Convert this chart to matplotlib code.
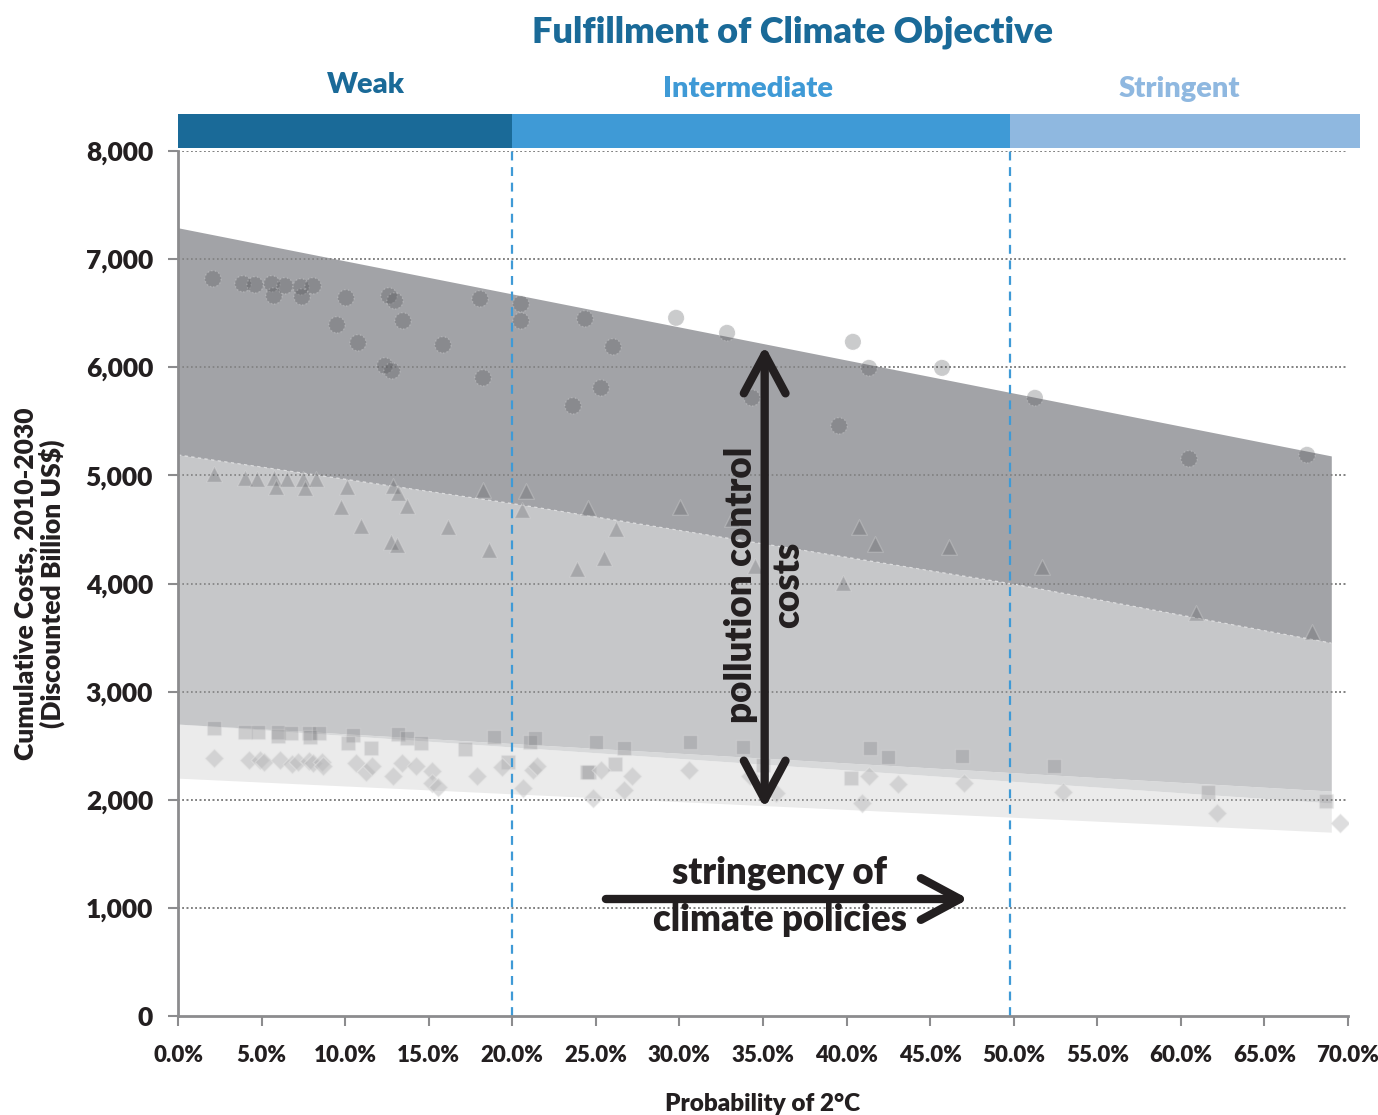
import matplotlib
matplotlib.use("Agg")
import matplotlib.pyplot as plt
from matplotlib.patches import Rectangle
import numpy as np

plt.rcParams['font.family'] = ['Lato', 'DejaVu Sans']
W = "heavy"

# ---------------- data ----------------
band_x = [0, 20, 50, 69]
top_line = [7290, 6678, 5761, 5180]
mid_line = [5190, 4740, 3995, 3450]
upper_low_line = [2700, 2520, 2250, 2080]
lower_low_line = [2700, 2488, 2170, 1970]
bottom_line = [2200, 2055, 1838, 1700]

circle_x = [2.09, 3.89, 4.61, 5.62, 5.74, 6.40, 7.36, 7.42, 8.08, 9.51, 10.05, 10.77, 12.38, 12.80,
            12.62, 12.98, 13.46, 15.85, 18.07, 18.25, 20.52, 20.52, 24.35, 26.03, 25.31, 23.63,
            29.80, 32.85, 34.34, 40.38, 41.34, 45.71, 39.55, 51.27, 60.49, 67.55]
circle_y = [6818, 6772, 6762, 6772, 6660, 6753, 6744, 6651, 6753, 6392, 6642, 6226, 6013, 5967,
            6660, 6614, 6429, 6207, 6633, 5902, 6586, 6429, 6448, 6189, 5809, 5643,
            6457, 6318, 5717, 6235, 5994, 5994, 5458, 5717, 5153, 5190]

tri_x = [2.15, 4.01, 4.73, 5.74, 5.86, 6.52, 7.48, 7.60, 8.26, 9.75, 10.11, 10.95, 12.86, 13.16,
         12.74, 13.10, 13.70, 16.15, 18.25, 18.61, 20.82, 20.58, 24.53, 23.87, 25.49, 26.21,
         30.03, 33.15, 34.52, 39.79, 40.74, 41.70, 46.13, 51.69, 60.91, 67.85]
tri_y = [5014, 4977, 4968, 4977, 4894, 4968, 4968, 4884, 4968, 4709, 4894, 4533, 4903, 4838,
         4385, 4357, 4718, 4524, 4866, 4311, 4857, 4681, 4699, 4135, 4237, 4505,
         4709, 4598, 4163, 4006, 4524, 4366, 4339, 4154, 3728, 3552]

sq_x = [2.15, 4.01, 4.79, 5.98, 5.98, 6.76, 7.84, 7.90, 8.44, 10.47, 10.17, 11.55, 13.16, 13.70,
        14.54, 17.17, 18.91, 19.74, 21.06, 21.36, 24.59, 25.01, 26.68, 26.15, 24.47, 30.63,
        33.80, 35.00, 41.40, 42.48, 40.27, 46.91, 52.41, 61.62, 68.68]
sq_y = [2664, 2627, 2627, 2627, 2590, 2618, 2618, 2581, 2618, 2599, 2525, 2479, 2609, 2572,
        2525, 2470, 2581, 2350, 2535, 2572, 2257, 2535, 2479, 2331, 2257, 2535,
        2488, 2322, 2479, 2396, 2202, 2405, 2313, 2072, 1989]

dia_x = [2.15, 4.25, 4.91, 5.15, 6.10, 6.82, 7.18, 7.84, 8.08, 8.62, 8.68, 10.65, 11.25, 11.61,
         12.86, 13.40, 14.24, 15.20, 15.20, 15.56, 17.89, 19.38, 20.64, 21.24, 21.48, 25.31,
         27.16, 26.68, 24.83, 30.57, 34.22, 35.78, 41.34, 43.08, 40.92, 47.03, 52.95, 62.16, 69.52]
dia_y = [2387, 2368, 2368, 2350, 2368, 2331, 2350, 2359, 2340, 2350, 2313, 2340, 2257, 2313,
         2220, 2340, 2313, 2266, 2155, 2118, 2220, 2303, 2109, 2276, 2313, 2276,
         2220, 2091, 2017, 2276, 2220, 2063, 2220, 2146, 1970, 2155, 2072, 1878, 1785]

x_ticks = [0, 5, 10, 15, 20, 25, 30, 35, 40, 45, 50, 55, 60, 65, 70]
x_tick_labels = ["0.0%", "5.0%", "10.0%", "15.0%", "20.0%", "25.0%", "30.0%", "35.0%",
                 "40.0%", "45.0%", "50.0%", "55.0%", "60.0%", "65.0%", "70.0%"]
y_ticks = [0, 1000, 2000, 3000, 4000, 5000, 6000, 7000, 8000]
y_tick_labels = ["0", "1,000", "2,000", "3,000", "4,000", "5,000", "6,000", "7,000", "8,000"]

categories = ["Weak", "Intermediate", "Stringent"]
cat_edges = [0, 20, 49.75, 70.7]
cat_colors = ["#1a6a98", "#3f9ad6", "#8fb8e0"]

# ---------------- figure ----------------
fig = plt.figure(figsize=(13.78, 11.15), dpi=100)
ax = fig.add_axes([178/1378, 1 - 1016/1115, (1348-178)/1378, (1016-151)/1115])
ax.set_xlim(0, 70)
ax.set_ylim(0, 8000)

grid_ls = (0, (1, 1.6))
for yv in y_ticks[1:]:
    ax.axhline(yv, color="#808080", lw=1.2, ls=grid_ls, zorder=0.5)

# bands
ax.fill_between(band_x, bottom_line, lower_low_line, color="#ebebeb", lw=0, zorder=1)
ax.fill_between(band_x, lower_low_line, upper_low_line, color="#d8d9da", lw=0, zorder=1)
ax.fill_between(band_x, upper_low_line, mid_line, color="#c6c7c9", lw=0, zorder=1)
ax.fill_between(band_x, mid_line, top_line, color="#a2a3a7", lw=0, zorder=1)
ax.plot(band_x, mid_line, color="white", lw=0.8, ls=(0, (3, 3)), alpha=0.6, zorder=1.1)

for yv in y_ticks[1:]:
    ax.axhline(yv, color="#808080", lw=1.2, ls=grid_ls, zorder=1.5)

# scatter series
ax.scatter(circle_x, circle_y, s=135, marker="o", color="#525357", alpha=0.3,
           edgecolors="#e6e6e6", linewidths=1.0, linestyle=":", zorder=3)
ax.scatter(tri_x, tri_y, s=125, marker="^", color="#55565a", alpha=0.28,
           edgecolors="#e6e6e6", linewidths=1.0, zorder=3)
ax.scatter(sq_x, sq_y, s=110, marker="s", color="#747478", alpha=0.26,
           edgecolors="#e6e6e6", linewidths=1.0, zorder=3)
ax.scatter(dia_x, dia_y, s=90, marker="D", color="#b4b4b6", alpha=0.45,
           edgecolors="#e6e6e6", linewidths=1.0, zorder=3)

# dashed category separators
for xv in cat_edges[1:3]:
    ax.plot([xv, xv], [0, 8030], color="#3f9ad6", lw=1.6, ls=(0, (4, 3)),
            zorder=4, clip_on=False)

# header bars
for i, name in enumerate(categories):
    ax.add_patch(Rectangle((cat_edges[i], 8030), cat_edges[i+1] - cat_edges[i], 315,
                           facecolor=cat_colors[i], edgecolor="none", clip_on=False, zorder=5))
label_pos = [(11.25, 8612), (34.1, 8575), (59.9, 8575)]
for i, name in enumerate(categories):
    ax.text(label_pos[i][0], label_pos[i][1], name, color=cat_colors[i], fontsize=21,
            fontweight=W, ha="center", va="center", clip_on=False)

fig.text(792/1378, 1 - 32/1115, "Fulfillment of Climate Objective", color="#1a6a98",
         fontsize=26, fontweight=W, ha="center", va="center")

# arrows
arrow_color = "#231f20"
ax.annotate("", xy=(35.1, 6200), xytext=(35.1, 1920),
            arrowprops=dict(arrowstyle="<->,head_length=1.4,head_width=0.75",
                            color=arrow_color, lw=6, mutation_scale=20,
                            shrinkA=0, shrinkB=0, capstyle="round", joinstyle="round"),
            zorder=6)
ax.annotate("", xy=(47.3, 1082), xytext=(25.6, 1082),
            arrowprops=dict(arrowstyle="->,head_length=1.4,head_width=0.75",
                            color=arrow_color, lw=6, mutation_scale=20,
                            shrinkA=0, shrinkB=0, capstyle="round", joinstyle="round"),
            zorder=6)
ax.text(35.1, 3987, "pollution control\ncosts", rotation=90, ha="center", va="center",
        fontsize=26.5, fontweight=W, color=arrow_color, linespacing=1.47, zorder=7)
ax.text(36.0, 1110, "stringency of\nclimate policies", ha="center", va="center",
        fontsize=26.3, fontweight=W, color=arrow_color, linespacing=1.47, zorder=7)

# axes styling
for s in ["top", "right"]:
    ax.spines[s].set_visible(False)
for s in ["left", "bottom"]:
    ax.spines[s].set_color("#8c8c8e")
    ax.spines[s].set_linewidth(2)
    ax.spines[s].set_zorder(5)
ax.set_xticks(x_ticks)
ax.set_xticklabels(x_tick_labels, fontsize=16, fontweight=W, color="#231f20")
ax.set_yticks(y_ticks)
ax.set_yticklabels(y_tick_labels, fontsize=19, fontweight=W, color="#231f20")
ax.tick_params(axis="x", length=7, width=1.5, color="#8c8c8e", pad=14)
ax.tick_params(axis="y", length=7, width=1.5, color="#8c8c8e", pad=11)

ax.set_xlabel("Probability of 2°C", fontsize=17.5, fontweight=W, color="#231f20", labelpad=19)
ax.set_ylabel("Cumulative Costs, 2010-2030\n(Discounted Billion US$)", fontsize=19,
              fontweight=W, color="#231f20", labelpad=15, linespacing=1.0)

fig.savefig("out.png", dpi=100)
